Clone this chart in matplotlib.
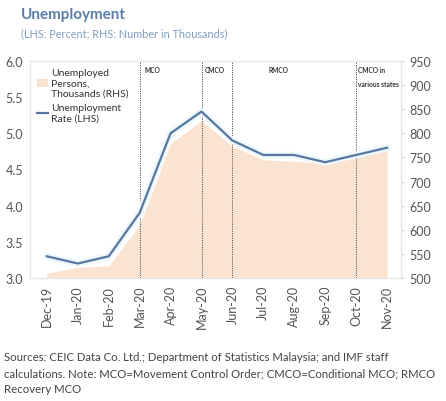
import matplotlib.pyplot as plt
from matplotlib.patches import Patch
from matplotlib.lines import Line2D

plt.rcParams['font.family'] = ['Lato', 'DejaVu Sans']

months = ["Dec-19", "Jan-20", "Feb-20", "Mar-20", "Apr-20", "May-20",
          "Jun-20", "Jul-20", "Aug-20", "Sep-20", "Oct-20", "Nov-20"]
rate = [3.3, 3.2, 3.3, 3.9, 5.0, 5.3, 4.9, 4.7, 4.7, 4.6, 4.7, 4.8]
persons = [510, 522, 525, 610, 779, 826, 773, 745, 742, 738, 751, 767]

events = ["Mar-20", "May-20", "Jun-20", "Oct-20"]

line_col = "#56789e"
fill_col = "#fbe3d2"
txt_col = "#555555"

fig = plt.figure(figsize=(4.46, 4.02), dpi=100)
ax = fig.add_axes([0.067, 0.306, 0.832, 0.540])
ax2 = ax.twinx()

x = list(range(len(months)))
ax2.fill_between(x, 500, persons, color=fill_col, lw=0, zorder=1)
ax2.set_ylim(500, 950)
ax2.set_yticks(range(500, 951, 50))

# faint glow around the rate line, as in the source image
ax.plot(x, rate, color="#eef7fc", lw=5, zorder=4, solid_capstyle="round")
ax.plot(x, rate, color=line_col, lw=1.6, zorder=5)
ax.set_ylim(3.0, 6.0)
ax.set_yticks([3.0, 3.5, 4.0, 4.5, 5.0, 5.5, 6.0])
ax.set_yticklabels([f"{v:.1f}" for v in ax.get_yticks()])
ax.set_xlim(-0.55, 11.45)
ax.set_xticks(x)
ax.set_xticklabels(months, rotation=90)

ax.set_zorder(ax2.get_zorder() + 1)
ax.patch.set_visible(False)

for a in (ax, ax2):
    for s in a.spines.values():
        s.set_color("#e4e4e4")
        s.set_linewidth(0.8)
    a.tick_params(colors=txt_col, labelsize=9, length=2, width=0.6)
ax.tick_params(axis="x", labelsize=9, length=0, pad=5)
ax.tick_params(axis="y", length=0, pad=5)
ax2.tick_params(axis="y", color="#bbbbbb", pad=4)

for ev in events:
    ax.axvline(months.index(ev), color="#555555", lw=0.7, ls=(0, (1.2, 1.2)), zorder=3)

lab_kw = dict(fontsize=4.8, fontweight="bold", color="#333333", va="top", zorder=6)
ax.text(months.index("Mar-20") + 0.15, 5.93, "MCO", **lab_kw)
ax.text(months.index("May-20") + 0.1, 5.93, "CMCO", **lab_kw)
ax.text(7.5, 5.93, "RMCO", ha="center", **lab_kw)
ax.text(months.index("Oct-20") + 0.05, 5.93, "CMCO in\nvarious states", linespacing=2.2, **lab_kw)

handles = [Patch(color=fill_col, lw=0),
           Line2D([], [], color=line_col, lw=1.6)]
labels = ["Unemployed\nPersons,\nThousands (RHS)", "Unemployment\nRate (LHS)"]
ax.legend(handles, labels, loc="upper left", bbox_to_anchor=(0.0, 1.0), frameon=False,
          fontsize=7.5, handlelength=1.0, handletextpad=0.3, labelspacing=0.5,
          borderaxespad=0.3, labelcolor="#333333")

fig.text(0.047, 0.953, "Unemployment", fontsize=11, fontweight="bold", color="#5a7ea8")
fig.text(0.047, 0.908, "(LHS: Percent; RHS: Number in Thousands)", fontsize=7.8, color="#7f9fc2")
fig.text(0.008, 0.022,
         "Sources: CEIC Data Co. Ltd.; Department of Statistics Malaysia; and IMF staff\n"
         "calculations. Note: MCO=Movement Control Order; CMCO=Conditional MCO; RMCO\n"
         "Recovery MCO",
         fontsize=8.2, color="#444444", linespacing=1.55)

fig.savefig("out.png", dpi=100)
